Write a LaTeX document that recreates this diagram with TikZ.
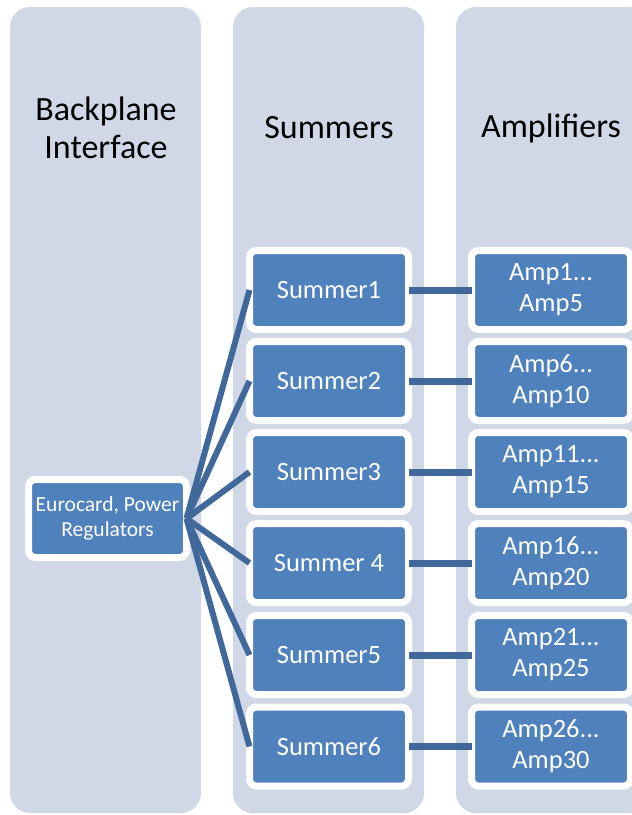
\documentclass[tikz,border=0pt]{standalone}
\usepackage{fontspec}
\setmainfont{Carlito}
\usetikzlibrary{positioning}
\definecolor{colbg}{RGB}{208,216,232}
\definecolor{boxblue}{RGB}{79,129,189}
\definecolor{linkblue}{RGB}{64,104,154}
\tikzset{
  column/.style={fill=colbg, draw=none, rounded corners=20pt},
  box/.style={fill=boxblue, draw=white, line width=7pt, rounded corners=7pt,
    minimum width=159pt, minimum height=79pt, inner sep=0pt, outer sep=0pt,
    text=white, align=center, font=\fontsize{26.5}{31}\selectfont},
  euro/.style={box, minimum width=158pt, minimum height=78pt, font=\fontsize{21.5}{25}\selectfont},
  heading/.style={align=center, text=black, font=\fontsize{34}{38}\selectfont},
  link/.style={draw=linkblue, line width=6pt},
  link2/.style={draw=linkblue, line width=7pt}
}
\begin{document}
\begin{tikzpicture}[x=1pt, y=-1pt]
\useasboundingbox (0,0) rectangle (632,815);
% columns
\path[column] (10,7) rectangle (201,813);
\path[column] (233,7) rectangle (424,813);
\path[column] (456,7) rectangle (648,813);
% headings
\node[heading] (h1) at (106,128) {Backplane\\Interface};
\node[heading] (h2) at (329,128) {Summers};
\node[heading] (h3) at (551,128) {Amplifiers};
% boxes
\node[euro] (eu) at (107.5,518.5) {Eurocard, Power\\Regulators};
\foreach \i/\y/\s/\a in {1/290/Summer1/{Amp1...\\Amp5},
                         2/381/Summer2/{Amp6...\\Amp10},
                         3/472/Summer3/{Amp11...\\Amp15},
                         4/563/Summer 4/{Amp16...\\Amp20},
                         5/655/Summer5/{Amp21...\\Amp25},
                         6/746.5/Summer6/{Amp26...\\Amp30}}{
  \node[box] (s\i) at (329,\y) {\s};
  \node[box] (a\i) at (551,\y) {\a};
}
% connectors
\foreach \i in {1,...,6}{
  \draw[link] (eu.east) -- (s\i.west);
  \draw[link2] (s\i.east) -- (a\i.west);
}
\end{tikzpicture}
\end{document}
